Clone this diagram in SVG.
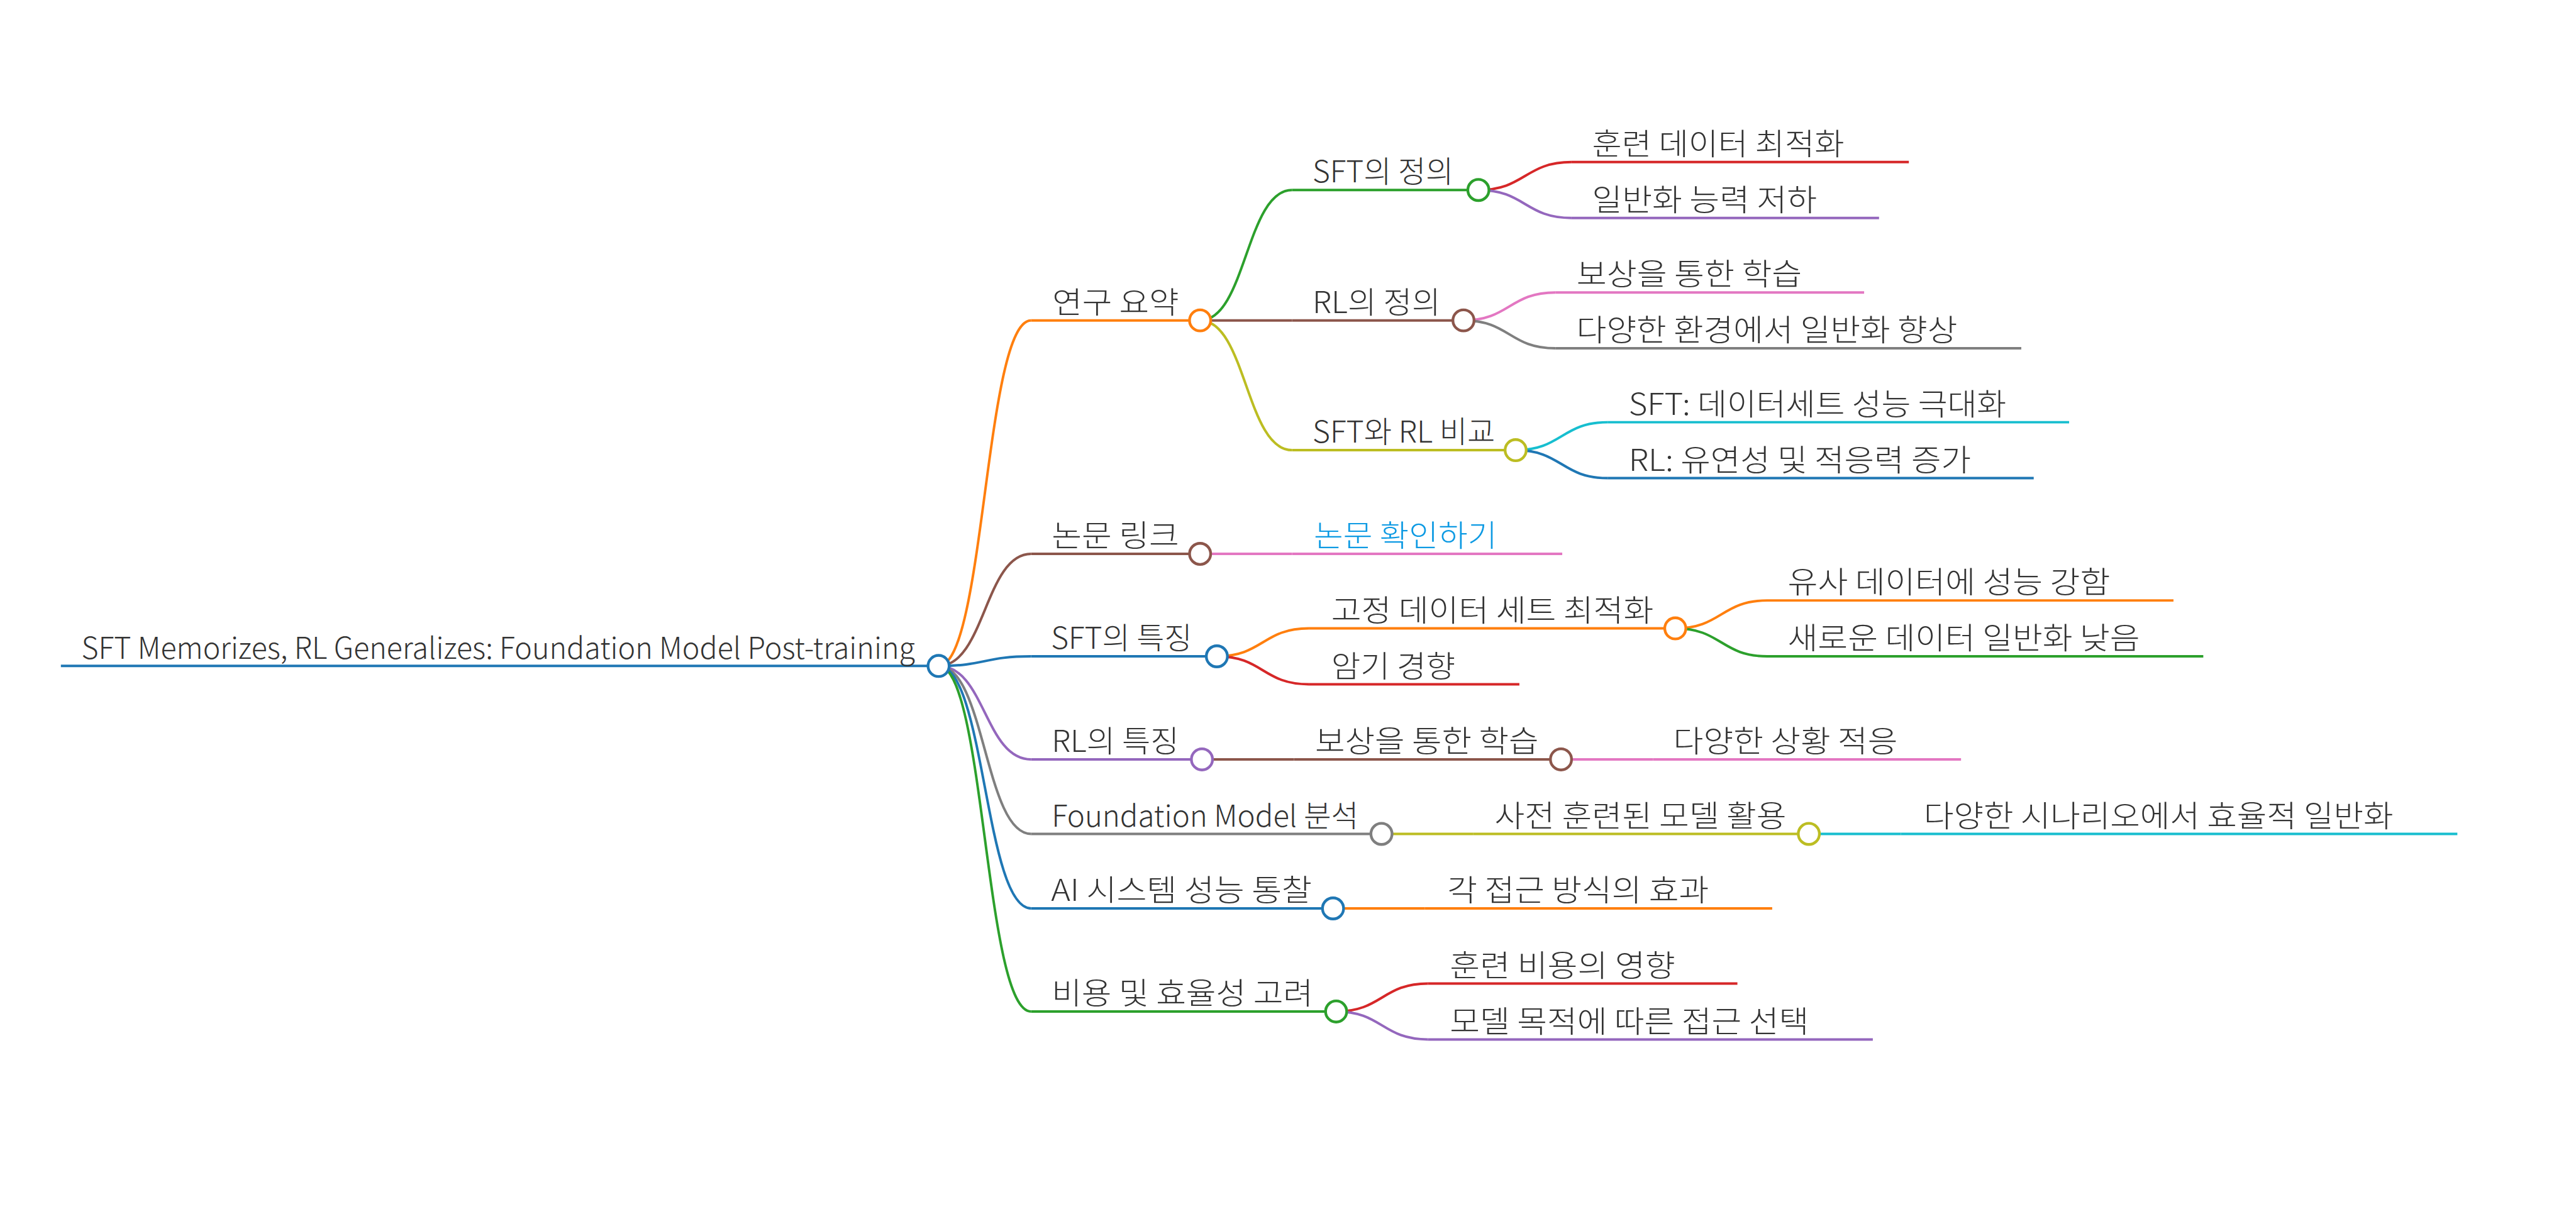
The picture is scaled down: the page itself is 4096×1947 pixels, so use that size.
<svg xmlns="http://www.w3.org/2000/svg" width="4096" height="1947" viewBox="0 0 4096 1947">
<style>
.t{font-family:"Noto Sans CJK KR","Noto Sans",sans-serif;font-size:48px;font-weight:300;fill:#333}
.ln{fill:none;stroke-width:4}
.lk{fill:none;stroke-width:4}
.c{fill:#fff;stroke-width:4.4}
</style>
<rect width="4096" height="1947" fill="#fff"/>
<g transform="scale(0.98770)">
<g id="connectors">
<path class="lk" stroke="#ff7f0e" d="M1511 1072.5C1585.5 1072.5 1585.5 516 1660 516"/>
<path class="lk" stroke="#8c564b" d="M1511 1072.5C1585.5 1072.5 1585.5 892 1660 892"/>
<path class="lk" stroke="#1f77b4" d="M1511 1072.5C1585.5 1072.5 1585.5 1057 1660 1057"/>
<path class="lk" stroke="#9467bd" d="M1511 1072.5C1585.5 1072.5 1585.5 1223 1660 1223"/>
<path class="lk" stroke="#7f7f7f" d="M1511 1072.5C1585.5 1072.5 1585.5 1343 1660 1343"/>
<path class="lk" stroke="#1f77b4" d="M1511 1072.5C1585.5 1072.5 1585.5 1463 1660 1463"/>
<path class="lk" stroke="#2ca02c" d="M1511 1072.5C1585.5 1072.5 1585.5 1629 1660 1629"/>
<path class="lk" stroke="#2ca02c" d="M1932 516C2006 516 2006 306 2080 306"/>
<path class="lk" stroke="#8c564b" d="M1932 516L2080 516"/>
<path class="lk" stroke="#bcbd22" d="M1932 516C2006 516 2006 725 2080 725"/>
<path class="lk" stroke="#e377c2" d="M1932 892L2080 892"/>
<path class="lk" stroke="#ff7f0e" d="M1959 1057C2033 1057 2033 1012 2107 1012"/>
<path class="lk" stroke="#d62728" d="M1959 1057C2033 1057 2033 1102 2107 1102"/>
<path class="lk" stroke="#8c564b" d="M1935 1223L2083 1223"/>
<path class="lk" stroke="#bcbd22" d="M2224 1343L2372 1343"/>
<path class="lk" stroke="#ff7f0e" d="M2146 1463L2294 1463"/>
<path class="lk" stroke="#d62728" d="M2151 1629C2225 1629 2225 1584 2299 1584"/>
<path class="lk" stroke="#9467bd" d="M2151 1629C2225 1629 2225 1674 2299 1674"/>
<path class="lk" stroke="#d62728" d="M2380 306C2455 306 2455 261 2530 261"/>
<path class="lk" stroke="#9467bd" d="M2380 306C2455 306 2455 351 2530 351"/>
<path class="lk" stroke="#e377c2" d="M2356 516C2430 516 2430 471 2504 471"/>
<path class="lk" stroke="#7f7f7f" d="M2356 516C2430 516 2430 561 2504 561"/>
<path class="lk" stroke="#17becf" d="M2440 725C2514 725 2514 680 2588 680"/>
<path class="lk" stroke="#1f77b4" d="M2440 725C2514 725 2514 770 2588 770"/>
<path class="lk" stroke="#ff7f0e" d="M2697 1012C2771 1012 2771 967 2845 967"/>
<path class="lk" stroke="#2ca02c" d="M2697 1012C2771 1012 2771 1057 2845 1057"/>
<path class="lk" stroke="#e377c2" d="M2513 1223L2661 1223"/>
<path class="lk" stroke="#17becf" d="M2912 1343L3060 1343"/>
</g>
<g id="root">
<line class="ln" stroke="#1f77b4" stroke-width="5.5" x1="98" y1="1072.5" x2="1511" y2="1072.5"/>
<text class="t" x="131" y="1061" textLength="1342" lengthAdjust="spacingAndGlyphs">SFT Memorizes, RL Generalizes: Foundation Model Post-training</text>
<circle class="c" stroke="#1f77b4" cx="1511" cy="1072.5" r="17"/>
</g>
<g id="n1">
<line class="ln" stroke="#ff7f0e" x1="1660" y1="516" x2="1932" y2="516"/>
<text class="t" x="1694" y="504" textLength="204" lengthAdjust="spacingAndGlyphs">연구 요약</text>
<circle class="c" stroke="#ff7f0e" cx="1932" cy="516" r="17"/>
</g>
<g id="n2">
<line class="ln" stroke="#8c564b" x1="1660" y1="892" x2="1932" y2="892"/>
<text class="t" x="1693" y="880" textLength="205" lengthAdjust="spacingAndGlyphs">논문 링크</text>
<circle class="c" stroke="#8c564b" cx="1932" cy="892" r="17"/>
</g>
<g id="n3">
<line class="ln" stroke="#1f77b4" x1="1660" y1="1057" x2="1959" y2="1057"/>
<text class="t" x="1692" y="1045" textLength="227" lengthAdjust="spacingAndGlyphs">SFT의 특징</text>
<circle class="c" stroke="#1f77b4" cx="1959" cy="1057" r="17"/>
</g>
<g id="n4">
<line class="ln" stroke="#9467bd" x1="1660" y1="1223" x2="1935" y2="1223"/>
<text class="t" x="1693" y="1211" textLength="205" lengthAdjust="spacingAndGlyphs">RL의 특징</text>
<circle class="c" stroke="#9467bd" cx="1935" cy="1223" r="17"/>
</g>
<g id="n5">
<line class="ln" stroke="#7f7f7f" x1="1660" y1="1343" x2="2224" y2="1343"/>
<text class="t" x="1693" y="1331" textLength="494" lengthAdjust="spacingAndGlyphs">Foundation Model 분석</text>
<circle class="c" stroke="#7f7f7f" cx="2224" cy="1343" r="17"/>
</g>
<g id="n6">
<line class="ln" stroke="#1f77b4" x1="1660" y1="1463" x2="2146" y2="1463"/>
<text class="t" x="1692" y="1451" textLength="420" lengthAdjust="spacingAndGlyphs">AI 시스템 성능 통찰</text>
<circle class="c" stroke="#1f77b4" cx="2146" cy="1463" r="17"/>
</g>
<g id="n7">
<line class="ln" stroke="#2ca02c" x1="1660" y1="1629" x2="2151" y2="1629"/>
<text class="t" x="1693" y="1617" textLength="421" lengthAdjust="spacingAndGlyphs">비용 및 효율성 고려</text>
<circle class="c" stroke="#2ca02c" cx="2151" cy="1629" r="17"/>
</g>
<g id="n1a">
<line class="ln" stroke="#2ca02c" x1="2080" y1="306" x2="2380" y2="306"/>
<text class="t" x="2113" y="294" textLength="227" lengthAdjust="spacingAndGlyphs">SFT의 정의</text>
<circle class="c" stroke="#2ca02c" cx="2380" cy="306" r="17"/>
</g>
<g id="n1b">
<line class="ln" stroke="#8c564b" x1="2080" y1="516" x2="2356" y2="516"/>
<text class="t" x="2113" y="504" textLength="206" lengthAdjust="spacingAndGlyphs">RL의 정의</text>
<circle class="c" stroke="#8c564b" cx="2356" cy="516" r="17"/>
</g>
<g id="n1c">
<line class="ln" stroke="#bcbd22" x1="2080" y1="725" x2="2440" y2="725"/>
<text class="t" x="2113" y="713" textLength="294" lengthAdjust="spacingAndGlyphs">SFT와 RL 비교</text>
<circle class="c" stroke="#bcbd22" cx="2440" cy="725" r="17"/>
</g>
<g id="n2a">
<line class="ln" stroke="#e377c2" x1="2080" y1="892" x2="2515" y2="892"/>
<text class="t" x="2115" y="880" textLength="295" lengthAdjust="spacingAndGlyphs" style="fill:#0d9ae3">논문 확인하기</text>
</g>
<g id="n3a">
<line class="ln" stroke="#ff7f0e" x1="2107" y1="1012" x2="2697" y2="1012"/>
<text class="t" x="2143" y="1000" textLength="519" lengthAdjust="spacingAndGlyphs">고정 데이터 세트 최적화</text>
<circle class="c" stroke="#ff7f0e" cx="2697" cy="1012" r="17"/>
</g>
<g id="n3b">
<line class="ln" stroke="#d62728" x1="2107" y1="1102" x2="2446" y2="1102"/>
<text class="t" x="2143" y="1090" textLength="200" lengthAdjust="spacingAndGlyphs">암기 경향</text>
</g>
<g id="n4a">
<line class="ln" stroke="#8c564b" x1="2083" y1="1223" x2="2513" y2="1223"/>
<text class="t" x="2117" y="1211" textLength="360" lengthAdjust="spacingAndGlyphs">보상을 통한 학습</text>
<circle class="c" stroke="#8c564b" cx="2513" cy="1223" r="17"/>
</g>
<g id="n5a">
<line class="ln" stroke="#bcbd22" x1="2372" y1="1343" x2="2912" y2="1343"/>
<text class="t" x="2406" y="1331" textLength="470" lengthAdjust="spacingAndGlyphs">사전 훈련된 모델 활용</text>
<circle class="c" stroke="#bcbd22" cx="2912" cy="1343" r="17"/>
</g>
<g id="n6a">
<line class="ln" stroke="#ff7f0e" x1="2294" y1="1463" x2="2853" y2="1463"/>
<text class="t" x="2330" y="1451" textLength="421" lengthAdjust="spacingAndGlyphs">각 접근 방식의 효과</text>
</g>
<g id="n7a">
<line class="ln" stroke="#d62728" x1="2299" y1="1584" x2="2797" y2="1584"/>
<text class="t" x="2334" y="1572" textLength="363" lengthAdjust="spacingAndGlyphs">훈련 비용의 영향</text>
</g>
<g id="n7b">
<line class="ln" stroke="#9467bd" x1="2299" y1="1674" x2="3015" y2="1674"/>
<text class="t" x="2334" y="1662" textLength="578" lengthAdjust="spacingAndGlyphs">모델 목적에 따른 접근 선택</text>
</g>
<g id="n1a1">
<line class="ln" stroke="#d62728" x1="2530" y1="261" x2="3073" y2="261"/>
<text class="t" x="2563" y="249" textLength="406" lengthAdjust="spacingAndGlyphs">훈련 데이터 최적화</text>
</g>
<g id="n1a2">
<line class="ln" stroke="#9467bd" x1="2530" y1="351" x2="3025" y2="351"/>
<text class="t" x="2563" y="339" textLength="362" lengthAdjust="spacingAndGlyphs">일반화 능력 저하</text>
</g>
<g id="n1b1">
<line class="ln" stroke="#e377c2" x1="2504" y1="471" x2="3001" y2="471"/>
<text class="t" x="2538" y="459" textLength="363" lengthAdjust="spacingAndGlyphs">보상을 통한 학습</text>
</g>
<g id="n1b2">
<line class="ln" stroke="#7f7f7f" x1="2504" y1="561" x2="3254" y2="561"/>
<text class="t" x="2538" y="549" textLength="613" lengthAdjust="spacingAndGlyphs">다양한 환경에서 일반화 향상</text>
</g>
<g id="n1c1">
<line class="ln" stroke="#17becf" x1="2588" y1="680" x2="3331" y2="680"/>
<text class="t" x="2622" y="668" textLength="608" lengthAdjust="spacingAndGlyphs">SFT: 데이터세트 성능 극대화</text>
</g>
<g id="n1c2">
<line class="ln" stroke="#1f77b4" x1="2588" y1="770" x2="3274" y2="770"/>
<text class="t" x="2622" y="758" textLength="551" lengthAdjust="spacingAndGlyphs">RL: 유연성 및 적응력 증가</text>
</g>
<g id="n3a1">
<line class="ln" stroke="#ff7f0e" x1="2845" y1="967" x2="3499" y2="967"/>
<text class="t" x="2878" y="955" textLength="519" lengthAdjust="spacingAndGlyphs">유사 데이터에 성능 강함</text>
</g>
<g id="n3a2">
<line class="ln" stroke="#2ca02c" x1="2845" y1="1057" x2="3547" y2="1057"/>
<text class="t" x="2878" y="1045" textLength="567" lengthAdjust="spacingAndGlyphs">새로운 데이터 일반화 낮음</text>
</g>
<g id="n4a1">
<line class="ln" stroke="#e377c2" x1="2661" y1="1223" x2="3157" y2="1223"/>
<text class="t" x="2694" y="1211" textLength="361" lengthAdjust="spacingAndGlyphs">다양한 상황 적응</text>
</g>
<g id="n5a1">
<line class="ln" stroke="#17becf" x1="3060" y1="1343" x2="3956" y2="1343"/>
<text class="t" x="3097" y="1331" textLength="756" lengthAdjust="spacingAndGlyphs">다양한 시나리오에서 효율적 일반화</text>
</g>
</g>
</svg>
